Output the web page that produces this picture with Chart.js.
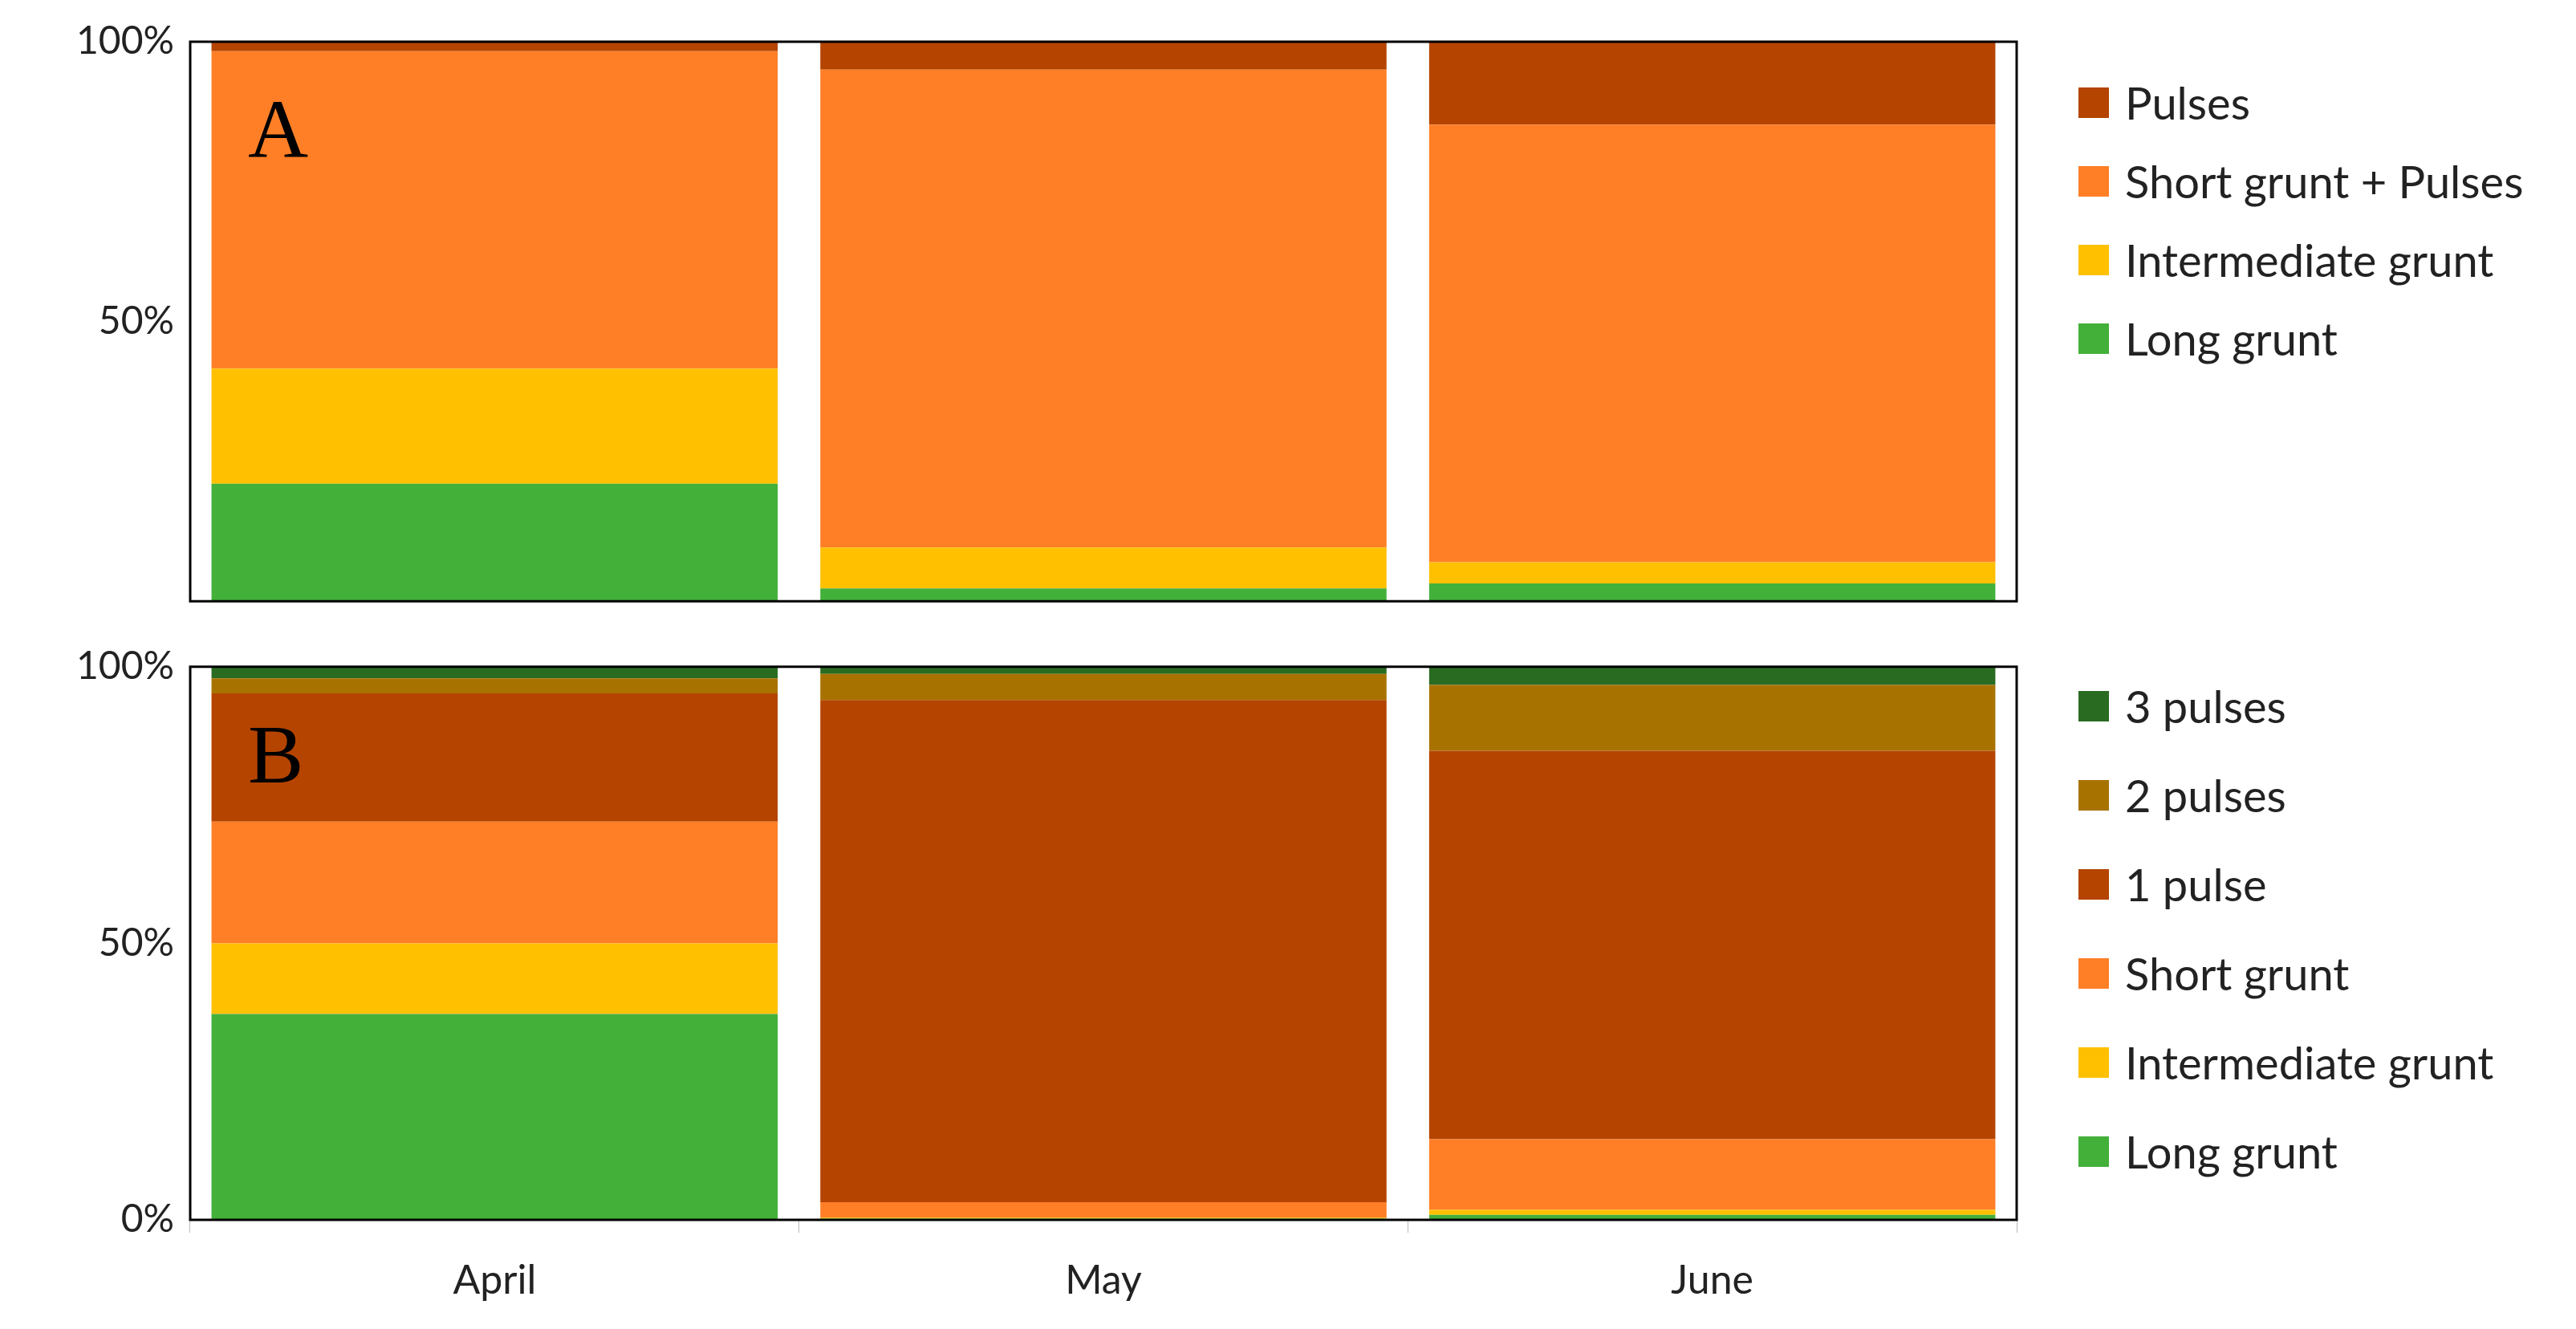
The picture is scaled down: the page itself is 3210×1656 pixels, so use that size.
<!DOCTYPE html>
<html><head><meta charset="utf-8">
<script src="https://cdn.jsdelivr.net/npm/chart.js@4.4.1/dist/chart.umd.min.js"></script>
<style>
body{margin:0;background:#fff;width:3210px;height:1656px;position:relative;overflow:hidden;font-family:Lato,"Open Sans",sans-serif}
canvas{position:absolute;left:0}
.leg{position:absolute;left:2590px;font-size:56px;color:#222}
.leg div{position:absolute;white-space:nowrap;display:flex;align-items:center}
.leg span{display:inline-block;width:38px;height:38px;margin-right:20px}
</style></head><body>
<div id="wa" style="position:absolute;left:0;top:0;width:2560px;height:790px"><canvas id="ca"></canvas></div>
<div id="wb" style="position:absolute;left:0;top:790px;width:2560px;height:866px"><canvas id="cb"></canvas></div>
<div class="leg" id="la" style="top:0"></div>
<div class="leg" id="lb" style="top:0"></div>
<script>
var months = ['April', 'May', 'June'];
var seriesA = ['Long grunt', 'Intermediate grunt', 'Short grunt + Pulses', 'Pulses'];
var longA = [21.0, 2.3, 3.2];
var interA = [20.6, 7.3, 3.8];
var shortPulsesA = [56.7, 85.4, 78.2];
var pulsesA = [1.7, 5.0, 14.8];
var seriesB = ['Long grunt', 'Intermediate grunt', 'Short grunt', '1 pulse', '2 pulses', '3 pulses'];
var longB = [37.2, 0.2, 0.9];
var interB = [12.8, 0.2, 0.9];
var shortB = [22.0, 2.8, 12.8];
var pulse1B = [23.2, 90.8, 70.2];
var pulse2B = [2.7, 4.7, 11.9];
var pulse3B = [2.1, 1.3, 3.3];
var colA = ['#43B03A', '#FFC000', '#FF7F27', '#B54400'];
var colB = ['#43B03A', '#FFC000', '#FF7F27', '#B54400', '#A87200', '#2A6B22'];

var frame = {
  id: 'frame',
  afterDraw: function(chart, args, opts) {
    var a = chart.chartArea, c = chart.ctx;
    c.save();
    c.strokeStyle = '#000'; c.lineWidth = 3;
    c.strokeRect(a.left, a.top, a.right - a.left, a.bottom - a.top);
    c.fillStyle = '#000';
    c.font = '104px "Liberation Serif", serif';
    c.fillText(opts.letter, a.left + 72, a.top + 144);
    c.restore();
  }
};

function makeChart(id, names, values, colors, yTicks, showX, pad) {
  return new Chart(document.getElementById(id), {
    type: 'bar',
    data: {
      labels: months,
      datasets: names.map(function(n, i) {
        return {label: n, data: values[i], backgroundColor: colors[i], barPercentage: 0.93, categoryPercentage: 1};
      })
    },
    options: {
      responsive: true, maintainAspectRatio: false, animation: false,
      layout: {padding: pad},
      plugins: {legend: {display: false}, tooltip: {enabled: false}, frame: {letter: id == 'ca' ? 'A' : 'B'}},
      scales: {
        x: {
          stacked: true, display: showX,
          grid: {offset: true, drawOnChartArea: false, color: '#bbb', tickLength: 16},
          border: {color: '#bbb'},
          ticks: {font: {size: 50, family: 'Lato'}, color: '#222', padding: 30},
          afterFit: function(s) { s.height = showX ? 120 : 0; }
        },
        y: {
          stacked: true, min: 0, max: 100,
          grid: {display: false}, border: {display: false},
          ticks: {font: {size: 48, family: 'Lato'}, color: '#222', padding: 12, callback: function(v) { return v + '%'; }},
          afterBuildTicks: function(s) { s.ticks = yTicks.map(function(v) { return {value: v}; }); },
          afterFit: function(s) { s.width = 237; }
        }
      }
    },
    plugins: [frame]
  });
}

makeChart('ca', seriesA, [longA, interA, shortPulsesA, pulsesA], colA, [50, 100], false, {top: 52, right: 47, bottom: 30, left: 0});
makeChart('cb', seriesB, [longB, interB, shortB, pulse1B, pulse2B, pulse3B], colB, [0, 50, 100], true, {top: 28, right: 47, bottom: 16, left: 0});

function legend(id, names, colors, y0, step) {
  var el = document.getElementById(id);
  for (var i = names.length - 1, k = 0; i >= 0; i--, k++) {
    var d = document.createElement('div');
    d.style.top = (y0 + k * step - 34) + 'px';
    d.innerHTML = '<span style="background:' + colors[i] + '"></span>' + names[i];
    el.appendChild(d);
  }
}
legend('la', seriesA, colA, 128, 98);
legend('lb', seriesB, colB, 880, 111);
</script>
</body></html>
